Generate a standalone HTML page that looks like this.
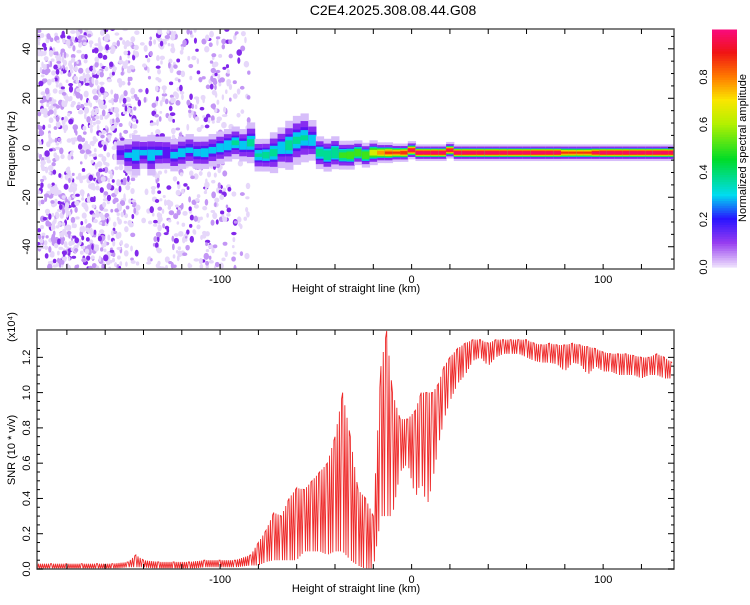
<!DOCTYPE html>
<html><head><meta charset="utf-8"><style>
body{margin:0;background:#fff;width:750px;height:600px;overflow:hidden;font-family:"Liberation Sans",sans-serif}
svg text{font-family:"Liberation Sans",sans-serif;font-size:11px;fill:#000}
</style></head><body>
<svg id="c" width="750" height="600">
<text x="393" y="15" text-anchor="middle" style="font-size:14px">C2E4.2025.308.08.44.G08</text>
</svg>
<script>
// ---- data ----
const ridgeKm = [-152,-148,-144,-140,-136,-132,-128,-124,-120,-116,-112,-108,-104,-100,-96,-92,-88,-84,-80,-76,-72,-68,-64,-60,-56,-52,-48,-44,-40,-36,-32,-28,-24,-20,-16,-12,-8,-4,0,4,8,12,16,20,24,28,32,36,40,44,48,52,56,60,64,68,72,76,80,84,88,92,96,100,104,108,112,116,120,124,128,132,136];
const ridgeFreq = [-2,-3,-3,-2,-3,-2,-2,-3,-2,-1,-2,-2,-1,0,1,2,1,2,-3,-3,-2,0,1,3,4,3,-2,-3,-2,-3,-3,-2,-3,-2,-2,-2,-2,-2,-1,-2,-2,-2,-2,-1,-2,-2,-2,-2,-2,-2,-2,-2,-2,-2,-2,-2,-2,-2,-2,-2,-2,-2,-2,-2,-2,-2,-2,-2,-2,-2,-2,-2,-2];
const ridgeAmp = [0.18,0.26,0.3,0.26,0.3,0.26,0.24,0.27,0.3,0.26,0.28,0.3,0.27,0.3,0.32,0.34,0.3,0.35,0.33,0.36,0.35,0.32,0.36,0.34,0.33,0.3,0.38,0.42,0.45,0.5,0.55,0.6,0.6,0.7,0.8,0.85,0.85,0.9,0.95,1,1,1,1,0.95,1,1,1,1,1,1,1,1,1,1,1,1,1,1,0.85,0.85,0.85,0.85,0.95,1,1,1,1,1,1,1,1,1,1];
const ridgeWidth = [3,4,5,4,5,4,4,4,4,4,4,4,4,4,4,4,4,5,4,4,5,5,6,6,6,5,4,4,4,3.5,3.5,3,3,3,2.5,2.5,2.2,2.2,2.2,2,2,2,2,2,2,2,2,2,2,2,2,2,2,2,2,2,2,2,2,2,2,2,2,2,2,2,2,2,2,2,2,2,2];
const noiseKm = [-190,-180,-170,-160,-150,-140,-130,-120,-110,-100,-90];
const noiseDensity = [30,32,30,30,24,8,18,16,14,16,8];
const snrKm = [-196,-188,-180,-172,-164,-156,-148,-144,-140,-132,-124,-116,-108,-100,-92,-84,-80,-76,-72,-68,-64,-60,-56,-52,-48,-44,-40,-36,-32,-28,-24,-20,-16,-13,-10,-6,-2,2,5,8,11,14,17,20,24,28,32,36,40,44,48,52,56,60,64,68,72,76,80,84,88,92,96,100,104,108,112,116,120,124,128,132,136];
const snrHigh = [0.03,0.03,0.03,0.03,0.03,0.03,0.04,0.08,0.05,0.04,0.04,0.04,0.05,0.05,0.05,0.08,0.15,0.22,0.32,0.3,0.4,0.46,0.45,0.5,0.55,0.6,0.75,1.0,0.75,0.45,0.4,0.3,1.15,1.35,1.0,0.85,0.85,0.9,1.0,1.0,1.0,1.05,1.15,1.2,1.25,1.28,1.3,1.3,1.28,1.3,1.3,1.3,1.3,1.3,1.28,1.27,1.28,1.27,1.27,1.28,1.27,1.26,1.25,1.23,1.22,1.22,1.22,1.21,1.2,1.2,1.22,1.2,1.17];
const snrLow = [0.0,0.0,0.0,0.0,0.0,0.0,0.01,0.01,0.01,0.0,0.0,0.0,0.01,0.01,0.01,0.02,0.02,0.04,0.05,0.05,0.05,0.05,0.1,0.1,0.1,0.08,0.1,0.1,0.05,0.02,0.0,0.0,0.3,0.3,0.3,0.55,0.6,0.4,0.5,0.35,0.5,0.7,0.85,0.95,1.05,1.1,1.18,1.2,1.15,1.2,1.22,1.22,1.22,1.2,1.18,1.17,1.17,1.16,1.12,1.17,1.16,1.1,1.15,1.12,1.12,1.1,1.1,1.1,1.08,1.1,1.1,1.08,1.08];
const xTicks = [-100,0,100];
const fTicks = [-40,-20,0,20,40];
const snrTicks = [0,0.2,0.4,0.6,0.8,1.0,1.2];
const cbTicks = [0,0.2,0.4,0.6,0.8];
// ---- axes ----
const NS='http://www.w3.org/2000/svg';
const svg=document.getElementById('c');
const L=37,R=674,X0=-195.6,X1=137;
const sx=k=>L+(k-X0)/(X1-X0)*(R-L);
const T1=29,B1=269,F0=-49,F1=48;
const sf=f=>B1-(f-F0)/(F1-F0)*(B1-T1);
const T2=330,B2=569,S1=1.355;
const ss=v=>B2-v/S1*(B2-T2);
function el(tag,a,p){const e=document.createElementNS(NS,tag);for(const k in a)e.setAttribute(k,a[k]);(p||svg).appendChild(e);return e;}
const stops=[[0,[235,220,252]],[0.1,[150,60,240]],[0.2,[40,20,255]],[0.3,[0,220,240]],[0.45,[0,220,40]],[0.6,[180,240,0]],[0.7,[250,230,0]],[0.8,[255,120,0]],[0.9,[240,20,20]],[1,[250,10,130]]];
function cmap(v){for(let i=1;i<stops.length;i++){if(v<=stops[i][0]){const[a,ca]=stops[i-1],[b,cb]=stops[i];const t=(v-a)/(b-a);return 'rgb('+ca.map((c,j)=>Math.round(c+(cb[j]-c)*t)).join(',')+')';}}return 'rgb(250,10,130)';}
const defs=el('defs',{});const cp=el('clipPath',{id:'cp1'},defs);el('rect',{x:L,y:T1,width:R-L,height:B1-T1},cp);
const cp2=el('clipPath',{id:'cp2'},defs);el('rect',{x:L,y:T2,width:R-L,height:B2-T2},cp2);
const gs=el('g',{'clip-path':'url(#cp1)'});


// noise dots (seeded texture)
let seed=12345;const rnd=()=>{seed=(seed*1103515245+12345)%2147483648;return seed/2147483648;};
noiseKm.forEach((k,i)=>{for(let n=0;n<noiseDensity[i]*7;n++){const kk=k-5+rnd()*10,f=F0+rnd()*(F1-F0),lv=rnd();
const d=el('ellipse',{cx:sx(kk),cy:sf(f),rx:1.2+rnd()*1.6,ry:1.5+rnd()*2,fill:lv>0.85?'rgb(130,40,235)':(lv>0.55?'rgb(195,150,245)':'rgb(230,215,250)')},gs);

}});
// ridge
const levels=[0.02,0.08,0.16,0.24,0.32,0.45,0.6,0.72,0.82,0.92];
const bw=(R-L)/(X1-X0)*4;
ridgeKm.forEach((k,i)=>{const a=ridgeAmp[i];levels.forEach(l=>{if(l>=a)return;const h=ridgeWidth[i]*Math.sqrt(1-l/a)*(l<0.05?1.7:(l<0.1?1.3:1));
const col=l<0.05?'rgb(215,190,250)':(l<0.1?'rgb(135,45,240)':(l<0.2?'rgb(90,20,245)':cmap(l+0.05)));
const r=el('rect',{x:sx(k)-bw/2,y:sf(ridgeFreq[i]+h),width:bw+0.6,height:sf(ridgeFreq[i]-h)-sf(ridgeFreq[i]+h),fill:col},gs);

});});
// snr line
let pts=[];snrKm.forEach((k,i)=>{if(i<snrKm.length-1){const k2=snrKm[i+1];const n=Math.max(2,Math.round((k2-k)/0.55));for(let j=0;j<n;j++){const t=j/n;const hi=snrHigh[i]+(snrHigh[i+1]-snrHigh[i])*t,lo=snrLow[i]+(snrLow[i+1]-snrLow[i])*t;pts.push(sx(k+(k2-k)*t)+','+ss(j%2?lo:hi));}}else pts.push(sx(k)+','+ss(snrHigh[i]));});
const pl=el('polyline',{points:pts.join(' '),fill:'none',stroke:'#ee2a2a','stroke-width':0.9,'clip-path':'url(#cp2)'});


// frames and ticks
function frame(T,B,name){const f=el('rect',{x:L,y:T,width:R-L,height:B-T,fill:'none',stroke:'#555','stroke-width':1.5});
for(let k=-180;k<=130;k+=20){el('line',{x1:sx(k),x2:sx(k),y1:T,y2:T+5,stroke:'#000'});el('line',{x1:sx(k),x2:sx(k),y1:B,y2:B-5,stroke:'#000'});}}
frame(T1,B1,'spectrogram-frame');frame(T2,B2,'snr-frame');
xTicks.forEach(v=>{[B1,B2].forEach((B,j)=>{const t=el('text',{x:sx(v),y:B+14,'text-anchor':'middle'});t.textContent=v;});});
for(let f=-45;f<=45;f+=5){const w=f%20===0?6:3;el('line',{x1:L,x2:L+w,y1:sf(f),y2:sf(f),stroke:'#000'});el('line',{x1:R,x2:R-w,y1:sf(f),y2:sf(f),stroke:'#000'});}
fTicks.forEach(f=>{const t=el('text',{transform:`translate(30,${sf(f)}) rotate(-90)`,'text-anchor':'middle'});t.textContent=f;});
for(let v=0;v<=1.3;v+=0.05){const w=Math.abs(v*5-Math.round(v*5))<0.01?6:3;el('line',{x1:L,x2:L+w,y1:ss(v),y2:ss(v),stroke:'#000'});el('line',{x1:R,x2:R-w,y1:ss(v),y2:ss(v),stroke:'#000'});}
snrTicks.forEach(v=>{const t=el('text',{transform:`translate(30,${ss(v)}) rotate(-90)`,'text-anchor':'middle'});t.textContent=v.toFixed(1);});
function lab(txt,x,y,rot,name,sz){const t=el('text',{transform:`translate(${x},${y})`+(rot?' rotate(-90)':''),'text-anchor':'middle'});if(sz)t.style.fontSize=sz;t.textContent=txt;return t;}
lab('Height of straight line (km)',356,292,0,'x-axis-title-top');
lab('Height of straight line (km)',356,592,0,'x-axis-title-bottom');
lab('Frequency (Hz)',15,149,1,'y-axis-title-top');
lab('SNR (10 * v/v)',15,450,1,'y-axis-title-bottom');
lab('(x10\u2074)',15,327,1,'y-axis-multiplier');
// colorbar
const cbT=29.5,cbB=267;const cy=v=>cbB-v*(cbB-cbT);
for(let v=0;v<1;v+=0.01){const r=el('rect',{x:712,y:cy(v+0.01),width:25,height:(cbB-cbT)*0.01+0.6,fill:cmap(v)});}
cbTicks.forEach(v=>{const t=el('text',{transform:`translate(707,${cy(v)}) rotate(-90)`,'text-anchor':'middle'});t.textContent=v.toFixed(1);});
lab('Normalized spectral amplitude',746,148,1,'colorbar-title');
</script>
</body></html>
